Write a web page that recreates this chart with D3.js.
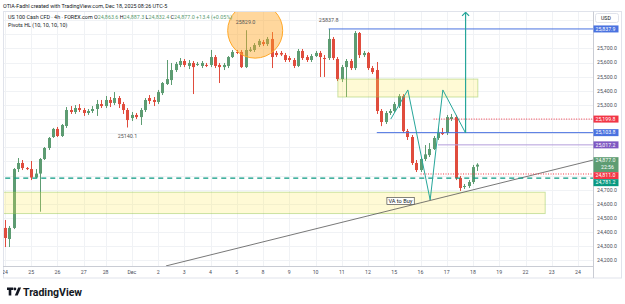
<!DOCTYPE html>
<html>
<head>
<script src="https://cdn.jsdelivr.net/npm/d3@7"></script>
<style>
    body { margin: 0; background: #fff; }
    svg text { font-family: Roboto, "Liberation Sans", sans-serif; }
</style>
</head>
<body>
<svg id="chart" width="625" height="304"></svg>
<script>
// 4h candles, Nov 24 .. Dec 18 (index 0 = first candle of Nov 24)
const opens = [24429,24351,24429,24846,24889,24853,24846,24786,24814,24917,
    24995,25073,25130,25080,25151,25264,25250,25278,25264,25243,
    25257,25271,25306,25292,25335,25314,25349,25306,25264,25207,
    25229,25214,25264,25349,25335,25321,25384,25448,25476,25547,
    25583,25611,25576,25597,25583,25576,25583,25583,25639,25583,
    25568,25576,25639,25675,25675,25568,25682,25689,25724,25745,
    25731,25767,25668,25668,25653,25632,25618,25576,25682,25639,
    25618,25646,25668,25632,25632,25767,25625,25483,25568,25611,
    25561,25809,25653,25668,25561,25547,25257,25179,25243,25257,
    25292,25363,25115,25073,24889,24839,24917,24945,24988,25066,
    25101,25101,25200,25214,24783,24719,24726,24754,24863.6]
const highs = [24485,24443,24853,24924,24910,24860,24903,24846,24924,25002,
    25073,25137,25144,25165,25285,25292,25299,25306,25278,25271,
    25292,25335,25335,25363,25356,25391,25363,25321,25278,25250,
    25243,25278,25349,25370,25356,25406,25462,25618,25597,25604,
    25632,25625,25618,25611,25604,25611,25597,25689,25653,25597,
    25597,25646,25689,25689,25689,25829,25710,25738,25767,25760,
    25781,25816,25682,25682,25668,25646,25632,25696,25696,25653,
    25660,25682,25682,25653,25837.8,25781,25639,25583,25625,25625,
    25823,25816,25682,25675,25576,25604,25271,25257,25271,25321,
    25377,25377,25130,25087,24910,24931,25016,25030,25080,25137,
    25137,25229,25236,25229,24797,24740,24768,24875,24887.3]
const lows = [24294,24294,24421,24825,24839,24839,24768,24783,24544,24910,
    24981,25066,25073,25073,25137,25236,25236,25250,25222,25229,
    25243,25222,25278,25278,25285,25299,25278,25236,25140.1,25186,
    25200,25158,25250,25306,25292,25306,25370,25441,25441,25533,
    25568,25568,25554,25377,25576,25561,25568,25568,25561,25455,
    25547,25561,25632,25660,25561,25561,25675,25675,25710,25717,
    25717,25561,25639,25646,25604,25604,25561,25568,25618,25604,
    25604,25639,25498,25498,25618,25618,25469,25462,25356,25547,
    25547,25632,25639,25547,25519,25236,25150,25165,25229,25243,
    25278,25101,25052,24875,24825,24825,24903,24931,24981,25052,
    25087,25087,25186,24768,24691,24705,24712,24740,24832.4]
const closes = [24358,24429,24846,24889,24853,24846,24786,24814,24917,24995,
    25066,25130,25080,25158,25264,25250,25278,25264,25243,25257,
    25271,25306,25292,25335,25314,25349,25306,25264,25193,25229,
    25214,25264,25335,25328,25321,25391,25455,25483,25547,25590,
    25611,25583,25597,25568,25590,25597,25579,25639,25576,25568,
    25583,25639,25675,25668,25568,25689,25692,25724,25753,25731,
    25767,25639,25653,25657,25618,25618,25576,25682,25632,25618,
    25646,25668,25639,25628,25767,25632,25483,25568,25611,25561,
    25809,25653,25668,25561,25533,25257,25179,25243,25257,25306,
    25363,25115,25073,24889,24839,24917,24950,24988,25066,25101,
    25097,25214,25214,24783,24712,24726,24754,24860,24877.0]

// time axis: candle index where each day starts
const dayIndex = [0,6,12,18,23,29,35,41,47,53,59,65,71,77,83,89,95,101,107,113,119,125,131]
const dayNames = ["24","25","26","27","28","Dec","2","3","4","5","8","9","10","11","12","15","16","17","18","19","22","23","24"]
const priceTicks = d3.range(24200, 25801, 100)

// pivots HL labels
const pivotIndex = [28, 55, 74]
const pivotPrice = [25140.1, 25829.0, 25837.8]
const pivotSide = ["low", "high", "high"]

// drawn levels: price, start index
const levelPrice = [25837.9, 25199.8, 25103.8, 25017.2, 24811.0, 24781.2]
const levelStart = [74, 98, 85, 99, 95, -2]
const levelKind = ["blue", "red", "blue", "purple", "red", "teal"]

// yellow zones: [top price, bottom price], [from index, to index]
const zoneTop = [24682, 25483]
const zoneBottom = [24531, 25356]
const zoneFrom = [-2, 76.1]
const zoneTo = [123.5, 108.1]

// zigzag pattern and target arrow (index, price)
const zigIndex = [88.2, 92.1, 97.2, 100.1, 105.3]
const zigPrice = [25200, 25406, 24627, 25406, 25101]
const arrowTopPrice = 25955

// trend line (index, price)
const trendIndex = [36.8, 131.5]
const trendPrice = [24160, 24887]

const lastPrice = 24877.0
const countdown = "22:56"

const up = "#5d9c72", down = "#e04c3d"
const kindColor = { blue: "#4a72e0", red: "#f23645", purple: "#7e57c2", teal: "#089981" }

const pane = { left: 3, right: 593, top: 11.5, bottom: 266 }
const frameRight = 621, frameBottom = 278

const x = d3.scaleLinear().domain([0, 131]).range([5, 578])
const y = d3.scaleLinear().domain([24200, 25800]).range([260.3, 34.3])

const svg = d3.select("#chart")
const defs = svg.append("defs")
defs.append("clipPath").attr("id", "pane")
    .append("rect").attr("x", pane.left).attr("y", pane.top)
    .attr("width", pane.right - pane.left).attr("height", pane.bottom - pane.top)
defs.append("clipPath").attr("id", "frame")
    .append("rect").attr("x", pane.left).attr("y", pane.top)
    .attr("width", frameRight - pane.left).attr("height", frameBottom - pane.top)

const g = svg.append("g").attr("clip-path", "url(#pane)")

// grid
g.selectAll(".hgrid").data(d3.range(24100, 26001, 100)).enter().append("line")
    .attr("x1", pane.left).attr("x2", pane.right)
    .attr("y1", d => Math.round(y(d)) + 0.5).attr("y2", d => Math.round(y(d)) + 0.5)
    .attr("stroke", "#f0f2f5")
g.selectAll(".vgrid").data(dayIndex).enter().append("line")
    .attr("x1", d => Math.round(x(d)) + 0.5).attr("x2", d => Math.round(x(d)) + 0.5)
    .attr("y1", pane.top).attr("y2", pane.bottom)
    .attr("stroke", "#f0f2f5")

// candles
const candles = opens.map((o, i) => ({ i, o, h: highs[i], l: lows[i], c: closes[i] }))
const cg = g.append("g")
cg.selectAll(".wick").data(candles).enter().append("line")
    .attr("x1", d => Math.round(x(d.i)) + 0.5).attr("x2", d => Math.round(x(d.i)) + 0.5)
    .attr("y1", d => y(d.h)).attr("y2", d => y(d.l))
    .attr("stroke", d => d.c >= d.o ? up : down).attr("stroke-width", 1)
cg.selectAll(".body").data(candles).enter().append("rect")
    .attr("x", d => Math.round(x(d.i)) - 1)
    .attr("width", 3)
    .attr("y", d => y(Math.max(d.o, d.c)))
    .attr("height", d => Math.max(1, Math.abs(y(d.o) - y(d.c))))
    .attr("fill", d => d.c >= d.o ? up : down)

// zones
zoneTop.forEach((t, k) => {
    g.append("rect")
        .attr("x", Math.max(pane.left - 2, x(zoneFrom[k])))
        .attr("y", y(t))
        .attr("width", x(zoneTo[k]) - Math.max(pane.left - 2, x(zoneFrom[k])))
        .attr("height", y(zoneBottom[k]) - y(t))
        .attr("fill", "rgba(255,236,80,0.24)")
        .attr("stroke", "rgba(139,195,74,0.45)")
        .attr("stroke-width", 1)
})

// orange circle around the top
g.append("circle")
    .attr("cx", x(57.2)).attr("cy", y(25826)).attr("r", 27.5)
    .attr("fill", "rgba(255,167,38,0.45)")
    .attr("stroke", "#ffa726").attr("stroke-width", 1)

// trend line
const tSlope = (trendPrice[1] - trendPrice[0]) / (trendIndex[1] - trendIndex[0])
g.append("line")
    .attr("x1", x(trendIndex[0])).attr("y1", y(trendPrice[0]))
    .attr("x2", x(135)).attr("y2", y(trendPrice[0] + tSlope * (135 - trendIndex[0])))
    .attr("stroke", "#555").attr("stroke-width", 0.8)

// levels
levelPrice.forEach((p, k) => {
    const kind = levelKind[k]
    const ln = g.append("line")
        .attr("x1", x(levelStart[k])).attr("x2", pane.right)
        .attr("y1", y(p)).attr("y2", y(p))
        .attr("stroke", kind === "purple" ? "#b39ddb" : kindColor[kind])
        .attr("stroke-width", kind === "teal" ? 1.3 : 1)
    if (kind === "red") ln.attr("stroke-dasharray", "1,1.5")
    if (kind === "teal") ln.attr("stroke-dasharray", "5,4")
})

// zigzag and arrow
const teal = "#26a69a"
g.append("path")
    .attr("d", d3.line()(zigIndex.map((d, k) => [x(d), y(zigPrice[k])])))
    .attr("fill", "none").attr("stroke", teal).attr("stroke-width", 1)
const ax = x(zigIndex[4]), ay = y(arrowTopPrice)
g.append("line").attr("x1", ax).attr("x2", ax)
    .attr("y1", y(zigPrice[4])).attr("y2", ay)
    .attr("stroke", teal).attr("stroke-width", 1.2)
g.append("path")
    .attr("d", `M${ax - 3.5},${ay + 3.5}L${ax},${ay}L${ax + 3.5},${ay + 3.5}`)
    .attr("fill", "none").attr("stroke", teal).attr("stroke-width", 1.2)

// pivot labels
pivotIndex.forEach((pi, k) => {
    g.append("text")
        .attr("x", x(pi)).attr("y", y(pivotPrice[k]) + (pivotSide[k] === "low" ? 10.5 : -6.5))
        .attr("text-anchor", "middle").attr("font-size", 5.4).attr("fill", "#555")
        .text(String(pivotPrice[k].toFixed(1)))
})

// VA to Buy
const va = g.append("g")
const vaText = va.append("text")
    .attr("x", x(87.2) + 2).attr("y", y(24620) + 2)
    .attr("font-size", 5.6).attr("fill", "#131722").text("VA to Buy")
const bb = vaText.node().getBBox()
va.insert("rect", "text")
    .attr("x", bb.x - 1.5).attr("y", bb.y - 0.5)
    .attr("width", bb.width + 3).attr("height", bb.height + 1)
    .attr("fill", "#fff").attr("stroke", "#333").attr("stroke-width", 0.6)

// legend
const legend = svg.append("g")
legend.append("text").attr("x", 3).attr("y", 7.5).attr("font-size", 5.4).attr("fill", "#131722")
    .text("OTIA-Fadhl created with TradingView.com, Dec 18, 2025 08:26 UTC-5")
const l2 = legend.append("text").attr("x", 8).attr("y", 18.5).attr("font-size", 5.4).attr("fill", "#131722")
l2.append("tspan").text("US 100 Cash CFD · 4h · FOREX.com ")
const ohlc = [["O", opens[108]], ["H", highs[108]], ["L", lows[108]], ["C", closes[108]]]
ohlc.forEach(([k, v]) => {
    l2.append("tspan").text(" " + k)
    l2.append("tspan").attr("fill", up).text(d3.format(",.1f")(v))
})
const chg = closes[108] - opens[108]
l2.append("tspan").attr("fill", up)
    .text(` +${chg.toFixed(1)} (+${(chg / opens[108] * 100).toFixed(2)}%)`)
legend.append("text").attr("x", 8).attr("y", 27).attr("font-size", 5.4).attr("fill", "#131722")
    .text("Pivots HL (10, 10, 10, 10)")

// frame and axes
svg.append("rect").attr("x", pane.left + 0.5).attr("y", pane.top)
    .attr("width", frameRight - pane.left).attr("height", frameBottom - pane.top)
    .attr("fill", "none").attr("stroke", "#e0e3eb")
svg.append("line").attr("x1", pane.right + 0.5).attr("x2", pane.right + 0.5)
    .attr("y1", pane.top).attr("y2", frameBottom).attr("stroke", "#c9ccd4")
svg.append("line").attr("x1", pane.left).attr("x2", pane.right)
    .attr("y1", pane.bottom + 0.5).attr("y2", pane.bottom + 0.5).attr("stroke", "#c9ccd4")

const fg = svg.append("g").attr("clip-path", "url(#frame)")
fg.selectAll(".xt").data(dayIndex).enter().append("text")
    .attr("x", d => x(d)).attr("y", 274)
    .attr("text-anchor", "middle").attr("font-size", 5.2).attr("fill", "#4a4e59")
    .text((d, k) => dayNames[k])

// axis price labels with simple collision push
const labels = levelPrice.map((p, k) => ({ p, color: kindColor[levelKind[k]], h: 7 }))
labels.push({ p: lastPrice, color: up, h: 15, current: true })
labels.forEach(d => { d.cy = y(d.p) })
labels.sort((a, b) => a.cy - b.cy)
const ci = labels.findIndex(d => d.current)
labels[ci].top = labels[ci].cy - labels[ci].h / 2
for (let j = ci + 1; j < labels.length; j++) {
    labels[j].top = Math.max(labels[j].cy - labels[j].h / 2, labels[j - 1].top + labels[j - 1].h)
}
for (let j = ci - 1; j >= 0; j--) {
    labels[j].top = Math.min(labels[j].cy - labels[j].h / 2, labels[j + 1].top - labels[j].h)
}

// plain tick labels, skipped where a coloured label covers them
const covered = p => labels.some(d => y(p) > d.top - 2.5 && y(p) < d.top + d.h + 2.5)
fg.selectAll(".yt").data(priceTicks.filter(p => !covered(p))).enter().append("text")
    .attr("x", 597).attr("y", d => y(d) + 1.9)
    .attr("font-size", 5.2).attr("fill", "#4a4e59")
    .text(d => d3.format(",.1f")(d))

// USD box
fg.append("rect").attr("x", 595.5).attr("y", 13.5).attr("width", 23).attr("height", 9)
    .attr("rx", 2).attr("fill", "#fff").attr("stroke", "#e0e3eb")
fg.append("text").attr("x", 601).attr("y", 20).attr("font-size", 5.2).attr("fill", "#131722").text("USD")

labels.forEach(d => {
    fg.append("rect").attr("x", 593.5).attr("y", d.top).attr("width", 25).attr("height", d.h)
        .attr("fill", d.color)
    fg.append("text").attr("x", 595.5).attr("y", d.top + 5.2)
        .attr("font-size", 5.2).attr("fill", "#fff").text(d3.format(",.1f")(d.p))
    if (d.current) {
        fg.append("text").attr("x", 601).attr("y", d.top + 12.3)
            .attr("font-size", 5.2).attr("fill", "#fff").text(countdown)
    }
})

// footer logo
const logo = svg.append("g").attr("fill", "#131722")
logo.append("path").attr("d", "M7,287.5h6.2v2.6h-1.9v5.4h-2.6v-5.4h-1.7z")
logo.append("circle").attr("cx", 14.9).attr("cy", 289).attr("r", 1.4)
logo.append("path").attr("d", "M18.2,287.5h2.9l-3.4,8h-2.9z")
logo.append("text").attr("x", 23).attr("y", 295.5).attr("font-size", 10.5)
    .attr("font-weight", "bold").attr("fill", "#131722").text("TradingView")
</script>
</body>
</html>
